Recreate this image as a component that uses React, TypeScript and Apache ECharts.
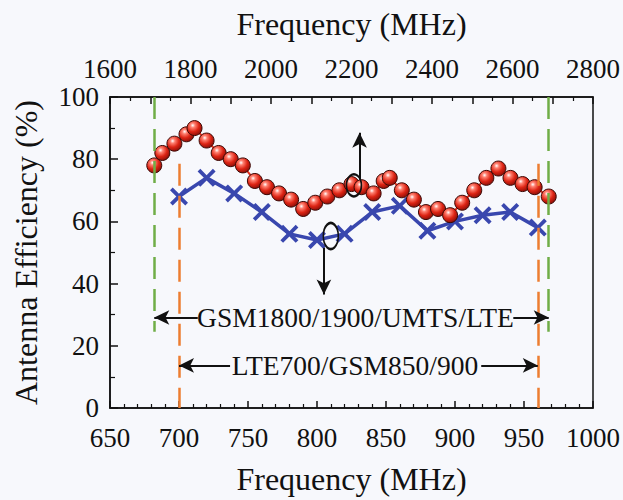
import React, { useEffect, useRef } from "react";
import * as echarts from "echarts";

// Bottom axis (low band) – blue crosses
const lowFreq = [700, 720, 740, 760, 780, 800, 820, 840, 860, 880, 900, 920, 940, 960];
const lowEff = [68, 74, 69, 63, 56, 54, 56, 63, 65, 57, 60, 62, 63, 58];

// Top axis (high band) – red spheres
const highFreq = [1710, 1730, 1760, 1790, 1810, 1840, 1870, 1900, 1930, 1960, 1990, 2020, 2050, 2080, 2110, 2140, 2170, 2200, 2225, 2255, 2280, 2295, 2325, 2355, 2385, 2415, 2445, 2475, 2505, 2535, 2565, 2595, 2625, 2655, 2690];
const highEff = [78, 82, 85, 88, 90, 86, 82, 80, 78, 73, 71, 69, 67, 64, 66, 68, 70, 72, 71, 69, 73, 74, 70, 67, 63, 64, 62, 66, 70, 74, 77, 74, 72, 71, 68];

// Band edges
const highBand = [1710, 2690];
const lowBand = [700, 960];
const highBandLabel = "GSM1800/1900/UMTS/LTE";
const lowBandLabel = "LTE700/GSM850/900";

const FONT = "'Liberation Serif', 'Times New Roman', serif";
const INK = "#111111";
const GREEN = "#70ad47";
const ORANGE = "#ed7d31";
const BLUE = "#3947ae";

const xPath = "path://M3,0 L10,7 L17,0 L20,3 L13,10 L20,17 L17,20 L10,13 L3,20 L0,17 L7,10 L0,3 Z";

export default function App() {
  const ref = useRef<HTMLDivElement>(null);
  useEffect(() => {
    if (!ref.current) return;
    const chart = echarts.init(ref.current, undefined, { renderer: "svg" });
    const arrowLine = { color: INK, width: 2, type: "solid" as const };
    const dashed = (c: string) => ({ color: c, width: 2.5, type: [22, 10] });
    const option: any = {
      animation: false,
      backgroundColor: "#f7f8fc",
      grid: {
        left: 110, right: 27, top: 97, bottom: 85,
        show: true, borderColor: INK, borderWidth: 1.5, backgroundColor: "#f7f8fc",
      },
      textStyle: { fontFamily: FONT },
      xAxis: [
        {
          type: "value", position: "bottom", min: 650, max: 1000, interval: 50,
          name: "Frequency (MHz)", nameLocation: "middle", nameGap: 55,
          nameTextStyle: { fontSize: 32, color: INK, fontFamily: FONT },
          axisLine: { show: true, lineStyle: { color: INK, width: 1.5 } },
          axisTick: { show: true, inside: true, length: 7, lineStyle: { color: INK, width: 1.5 } },
          minorTick: { show: true, splitNumber: 5, length: 4, lineStyle: { color: INK, width: 1.2 } },
          axisLabel: { fontSize: 27, color: INK, fontFamily: FONT, margin: 16, formatter: (v: number) => String(v) },
          splitLine: { show: false },
        },
        {
          type: "value", position: "top", min: 1600, max: 2800, interval: 100,
          name: "Frequency (MHz)", nameLocation: "middle", nameGap: 57,
          nameTextStyle: { fontSize: 32, color: INK, fontFamily: FONT },
          axisLine: { show: true, lineStyle: { color: INK, width: 1.5 } },
          axisTick: { show: true, inside: true, length: 7, lineStyle: { color: INK, width: 1.5 } },
          minorTick: { show: true, splitNumber: 2, length: 4, lineStyle: { color: INK, width: 1.2 } },
          axisLabel: {
            fontSize: 27, color: INK, fontFamily: FONT, margin: 15,
            formatter: (v: number) => (v % 200 === 0 ? String(v) : ""),
          },
          splitLine: { show: false },
        },
      ],
      yAxis: {
        type: "value", min: 0, max: 100, interval: 20,
        name: "Antenna Efficiency (%)", nameLocation: "middle", nameGap: 68,
        nameTextStyle: { fontSize: 32, color: INK, fontFamily: FONT },
        axisLine: { show: true, lineStyle: { color: INK, width: 1.5 } },
        axisTick: { show: true, inside: true, length: 8, lineStyle: { color: INK, width: 1.5 } },
        minorTick: { show: true, splitNumber: 2, length: 5, lineStyle: { color: INK, width: 1.2 } },
        axisLabel: { fontSize: 27, color: INK, fontFamily: FONT, margin: 11 },
        splitLine: { show: false },
      },
      series: [
        {
          name: "low", type: "line", xAxisIndex: 0, yAxisIndex: 0, z: 3,
          data: lowFreq.map((f, i) => [f, lowEff[i]]),
          symbol: xPath, symbolSize: 18,
          itemStyle: { color: BLUE },
          lineStyle: { color: BLUE, width: 3.5 },
          markLine: {
            silent: true, symbol: ["none", "none"], label: { show: false },
            data: [
              [{ coord: [lowBand[0], 78.5], lineStyle: dashed(ORANGE) }, { coord: [lowBand[0], 0] }],
              [{ coord: [lowBand[1], 78.5], lineStyle: dashed(ORANGE) }, { coord: [lowBand[1], 0] }],
              [{ coord: [737, 13.7], lineStyle: arrowLine }, { coord: [lowBand[0], 13.7] }],
              [{ coord: [919, 13.7], lineStyle: arrowLine }, { coord: [lowBand[1], 13.7] }],
              [{ coord: [805, 51.5], lineStyle: arrowLine }, { coord: [805, 36.5] }],
            ],
          },
          markPoint: {
            silent: true,
            data: [
              {
                coord: [810, 55.3], symbol: "circle", symbolSize: [15, 26],
                itemStyle: { color: "rgba(0,0,0,0)", borderColor: INK, borderWidth: 2 },
                label: { show: false },
              },
              {
                coord: [827.5, 13.7], symbol: "rect", symbolSize: [1, 1],
                itemStyle: { color: "rgba(0,0,0,0)" },
                label: { show: true, position: "inside", formatter: lowBandLabel, fontSize: 27.5, color: INK, fontFamily: FONT },
              },
            ],
          },
        },
        {
          name: "high", type: "line", xAxisIndex: 1, yAxisIndex: 0, z: 4,
          data: highFreq.map((f, i) => [f, highEff[i]]),
          symbol: "circle", symbolSize: 15,
          itemStyle: {
            color: {
              type: "radial", x: 0.38, y: 0.32, r: 0.7,
              colorStops: [
                { offset: 0, color: "#ffffff" },
                { offset: 0.22, color: "#ff8070" },
                { offset: 0.6, color: "#dd2414" },
                { offset: 1, color: "#8c0f08" },
              ],
            },
            borderColor: "#3a0805", borderWidth: 1,
          },
          lineStyle: { color: "#e0301e", width: 2 },
          markLine: {
            silent: true, symbol: ["none", "none"], label: { show: false },
            data: [
              [{ coord: [highBand[0], 100], lineStyle: dashed(GREEN) }, { coord: [highBand[0], 24.5] }],
              [{ coord: [highBand[1], 100], lineStyle: dashed(GREEN) }, { coord: [highBand[1], 24.5] }],
              [{ coord: [1818, 29.1], lineStyle: arrowLine }, { coord: [highBand[0], 29.1] }],
              [{ coord: [2602, 29.1], lineStyle: arrowLine }, { coord: [highBand[1], 29.1] }],
              [{ coord: [2220, 73.5], lineStyle: arrowLine }, { coord: [2220, 88.5] }],
            ],
          },
          markPoint: {
            silent: true,
            data: [
              {
                coord: [2206, 71.6], symbol: "circle", symbolSize: [15, 22],
                itemStyle: { color: "rgba(0,0,0,0)", borderColor: INK, borderWidth: 2 },
                label: { show: false },
              },
              {
                coord: [2210, 29.1], symbol: "rect", symbolSize: [1, 1],
                itemStyle: { color: "rgba(0,0,0,0)" },
                label: { show: true, position: "inside", formatter: highBandLabel, fontSize: 27.5, color: INK, fontFamily: FONT },
              },
            ],
          },
        },
      ],
    };
    // arrow heads only at the far end of arrow segments
    option.series.forEach((s: any) => {
      s.markLine.data.forEach((d: any) => {
        const isArrow = d[0].lineStyle && d[0].lineStyle.color === INK;
        d[0].symbol = "none";
        d[1].symbol = isArrow ? "arrow" : "none";
        d[1].symbolSize = [11, 15];
      });
    });
    chart.setOption(option);
    return () => chart.dispose();
  }, []);
  return <div ref={ref} style={{ position: "fixed", left: 0, top: 0, width: 623, height: 500 }} />;
}
